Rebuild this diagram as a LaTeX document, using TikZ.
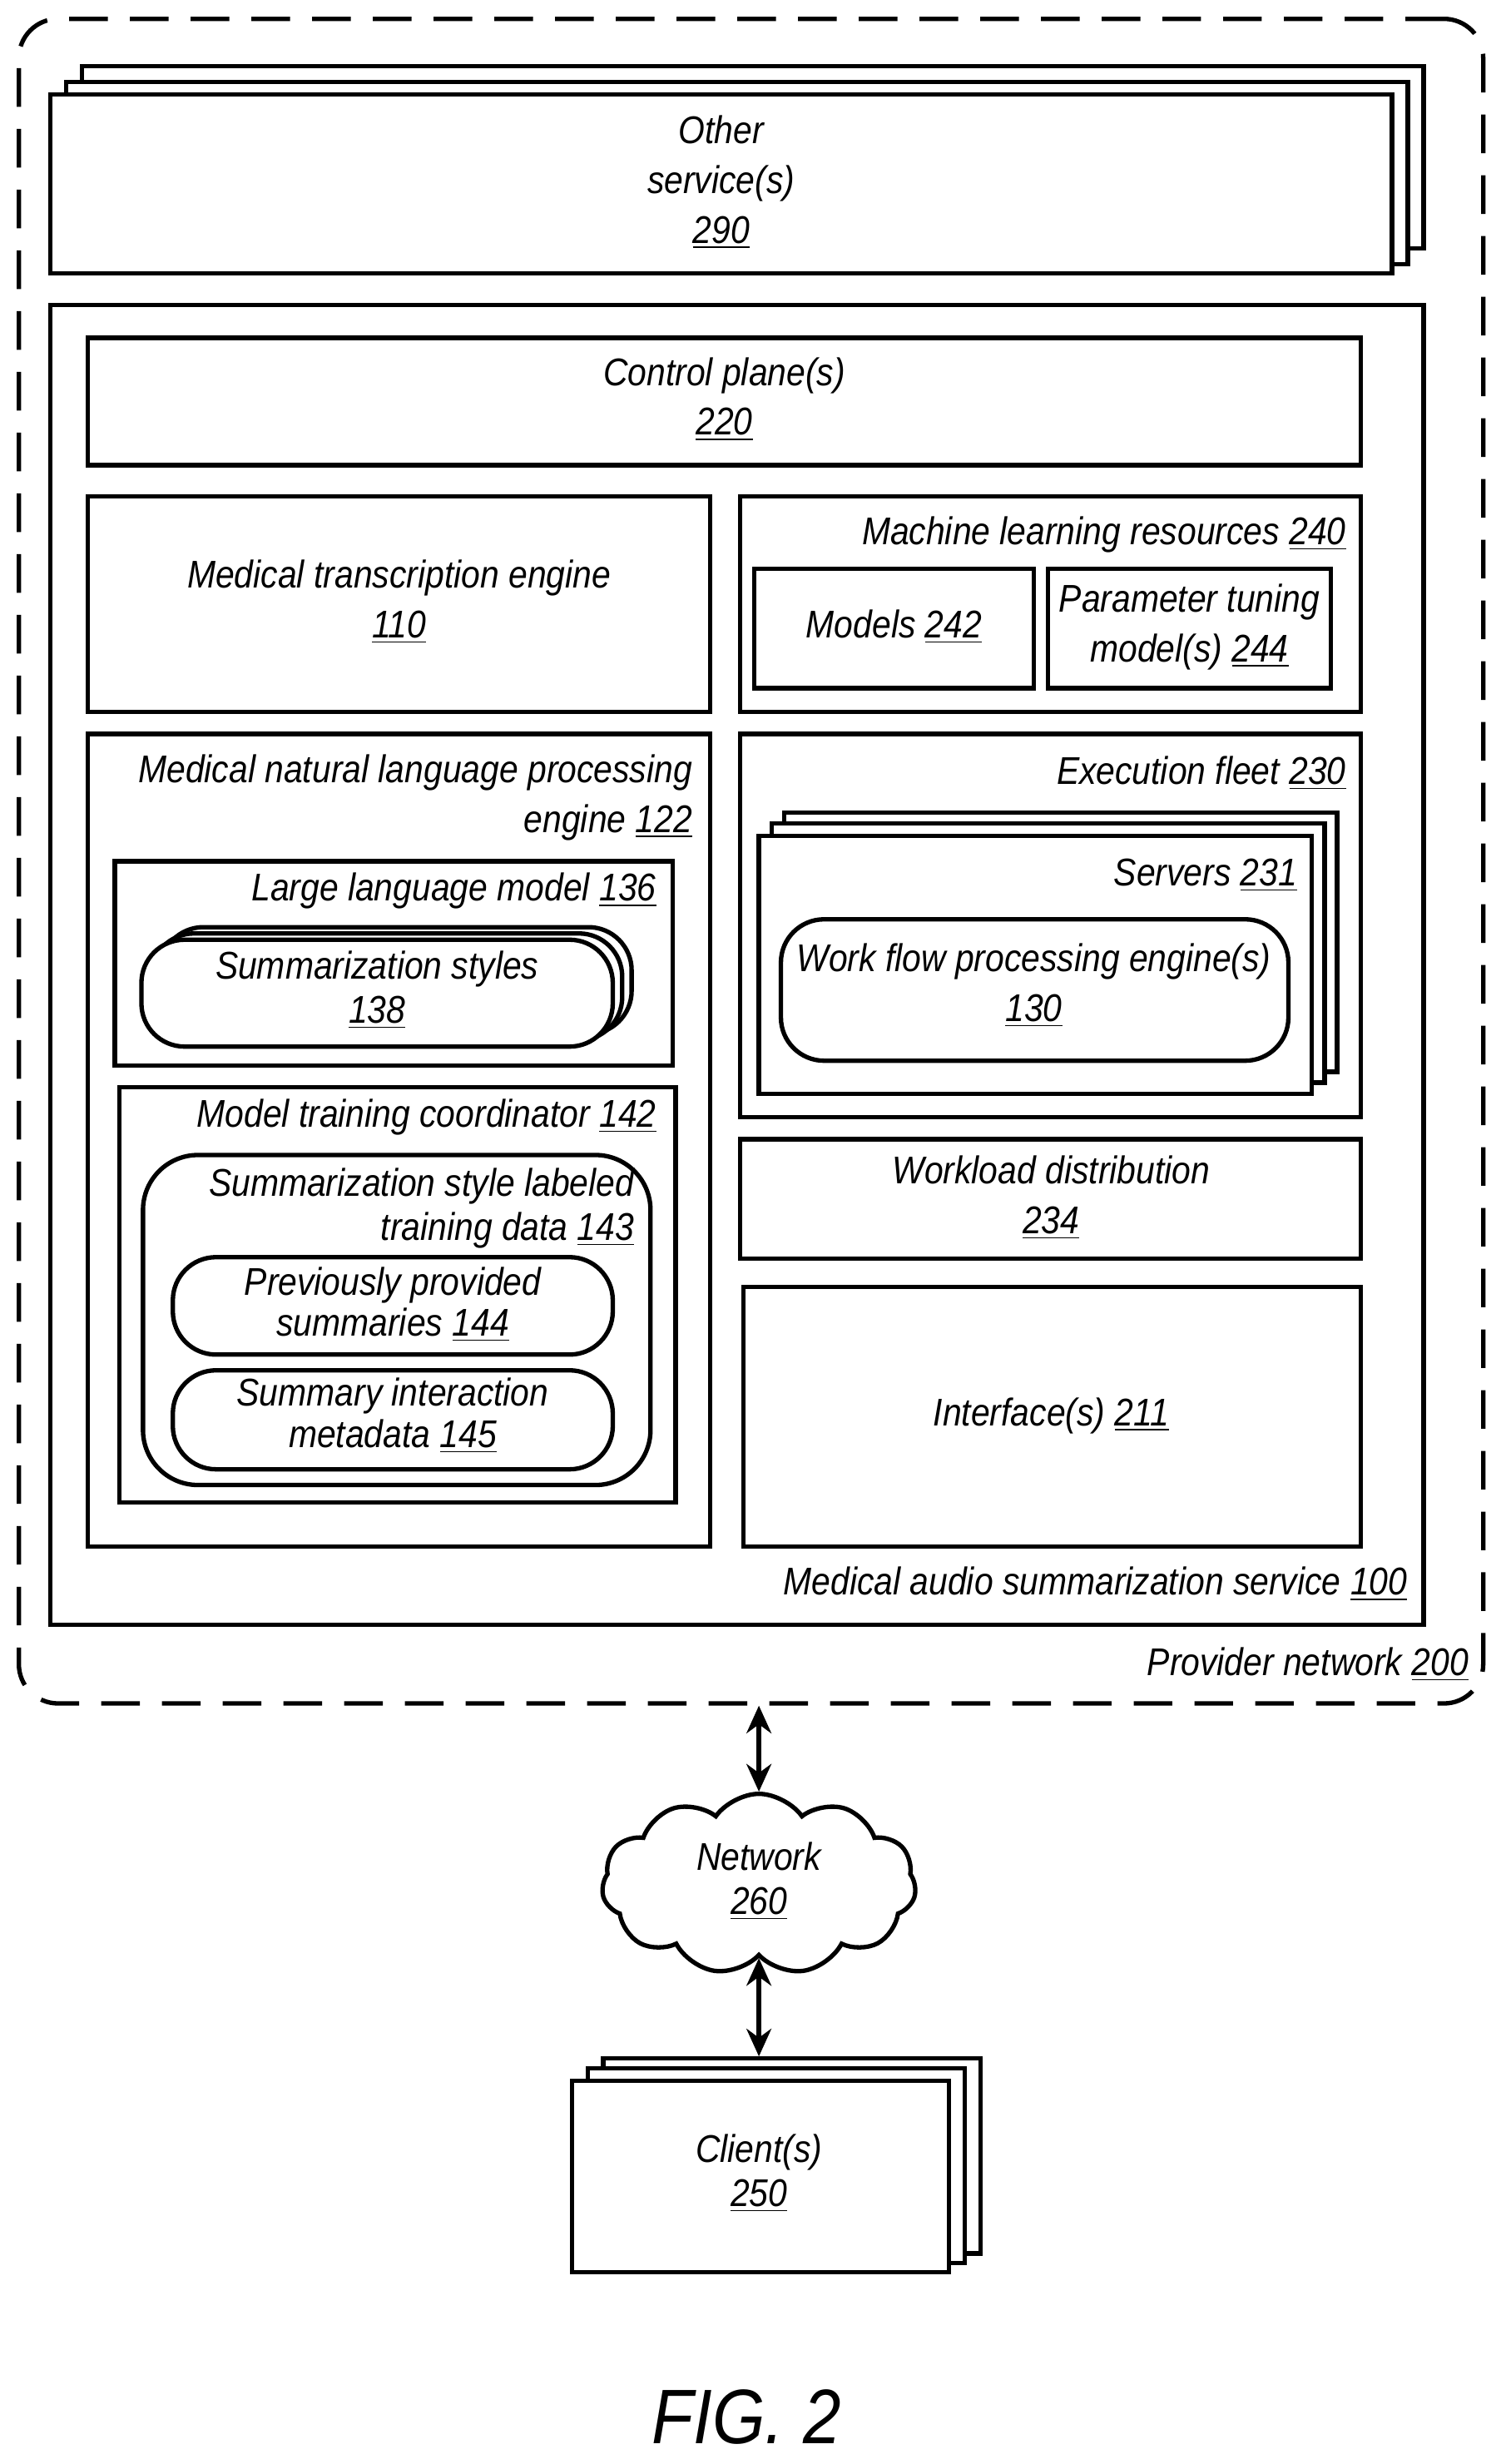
\documentclass[tikz,border=0pt]{standalone}
\usepackage{fontspec}
\setmainfont[FakeStretch=0.88]{Liberation Sans}
\usetikzlibrary{fit,shapes.symbols,arrows.meta}
\newcommand\ul[1]{\underline{#1}}
\begin{document}
\begin{tikzpicture}[x=0.02cm,y=-0.02cm,
  box/.style={draw,line width=1.6pt,fill=white,inner sep=0pt},
  rbox/.style={box,rounded corners=0.55cm},
  t/.style={font=\fontsize{14}{16}\selectfont\itshape,align=center,inner sep=0pt},
  arr/.style={{Stealth[length=10pt,width=9pt]}-{Stealth[length=10pt,width=9pt]},line width=1.6pt}]
\useasboundingbox (0,0) rectangle (958,1568);
\node[box,draw,dashed,dash pattern=on 14pt off 8pt,rounded corners=0.5cm,fit={(12,12) (944,1084)}] (prov) {};
\node[t,anchor=east] (provl) at (935,1059) {Provider network \ul{200}};
% other services
\node[box,fit={(52,42) (906,158)}] (os3) {};
\node[box,fit={(42,52) (896,168)}] (os2) {};
\node[box,fit={(32,60) (886,174)}] (os) {};
\node[t] (ost) at (459,116) {Other\\[2pt]service(s)\\[2pt]\ul{290}};
% service
\node[box,fit={(32,194) (906,1034)}] (svc) {};
\node[t,anchor=east] (svcl) at (896,1008) {Medical audio summarization service \ul{100}};
\node[box,fit={(56,215) (866,296)}] (cp) {};
\node[t] (cpt) at (461,254) {Control plane(s)\\[2pt]\ul{220}};
\node[box,fit={(56,316) (452,453)}] (mte) {};
\node[t] (mtet) at (254,383) {Medical transcription engine\\[2pt]\ul{110}};
\node[box,fit={(471,316) (866,453)}] (ml) {};
\node[t,anchor=east] (mll) at (857,340) {Machine learning resources \ul{240}};
\node[box,fit={(480,362) (658,438)}] (mod) {};
\node[t] (modt) at (569,399) {Models \ul{242}};
\node[box,fit={(667,362) (847,438)}] (ptm) {};
\node[t] (ptmt) at (757,399) {Parameter tuning\\[2pt]model(s) \ul{244}};
% NLP
\node[box,fit={(56,467) (452,984)}] (nlp) {};
\node[t,align=right,anchor=north east] (nlpl) at (441,480) {Medical natural language processing\\[2pt]engine \ul{122}};
\node[box,fit={(73,548) (428,678)}] (llm) {};
\node[t,anchor=east] (llml) at (418,567) {Large language model \ul{136}};
\node[rbox,fit={(102,590) (402,658)}] (ss3) {};
\node[rbox,fit={(96,594) (396,662)}] (ss2) {};
\node[rbox,fit={(90,598) (390,666)}] (ss) {};
\node[t] (sst) at (240,630) {Summarization styles\\[0pt]\ul{138}};
\node[box,fit={(76,692) (430,956)}] (mtc) {};
\node[t,anchor=east] (mtcl) at (418,711) {Model training coordinator \ul{142}};
\node[rbox,rounded corners=0.7cm,fit={(91,735) (414,945)}] (sld) {};
\node[t,align=right,anchor=north east] (sldl) at (404,743) {Summarization style labeled\\[0pt]training data \ul{143}};
\node[rbox,fit={(110,800) (390,862)}] (pps) {};
\node[t] (ppst) at (250,830) {Previously provided\\[-1pt]summaries \ul{144}};
\node[rbox,fit={(110,872) (390,935)}] (sim) {};
\node[t] (simt) at (250,901) {Summary interaction\\[-1pt]metadata \ul{145}};
% execution fleet
\node[box,fit={(471,467) (866,711)}] (ef) {};
\node[t,anchor=east] (efl) at (857,492) {Execution fleet \ul{230}};
\node[box,fit={(499,517) (851,682)}] (sv3) {};
\node[box,fit={(491,524) (843,689)}] (sv2) {};
\node[box,fit={(483,532) (835,696)}] (sv) {};
\node[t,anchor=east] (svl) at (826,557) {Servers \ul{231}};
\node[rbox,fit={(497,585) (820,675)}] (wf) {};
\node[t] (wft) at (658,627) {Work flow processing engine(s)\\[2pt]\ul{130}};
\node[box,fit={(471,725) (866,801)}] (wd) {};
\node[t] (wdt) at (669,762) {Workload distribution\\[2pt]\ul{234}};
\node[box,fit={(473,819) (866,984)}] (itf) {};
\node[t] (itft) at (669,901) {Interface(s) \ul{211}};
% network
\node[cloud,draw,line width=1.6pt,cloud puffs=11,cloud puff arc=110,aspect=1.9,minimum width=4cm,minimum height=2.3cm,inner sep=0pt] (net) at (483,1199) {};
\node[t] (nett) at (483,1197) {Network\\[0pt]\ul{260}};
% clients
\node[box,fit={(384,1310) (624,1434)}] (c3) {};
\node[box,fit={(374,1316) (614,1440)}] (c2) {};
\node[box,fit={(364,1324) (604,1446)}] (cl) {};
\node[t] (clt) at (483,1383) {Client(s)\\[0pt]\ul{250}};
\draw[arr] (net.north |- prov.south) -- (net.north);
\draw[arr] (net.south) -- (net.south |- c3.north);
\node[t,font=\fontsize{28}{30}\selectfont\itshape] (fig) at (475,1538) {FIG. 2};
\end{tikzpicture}
\end{document}
